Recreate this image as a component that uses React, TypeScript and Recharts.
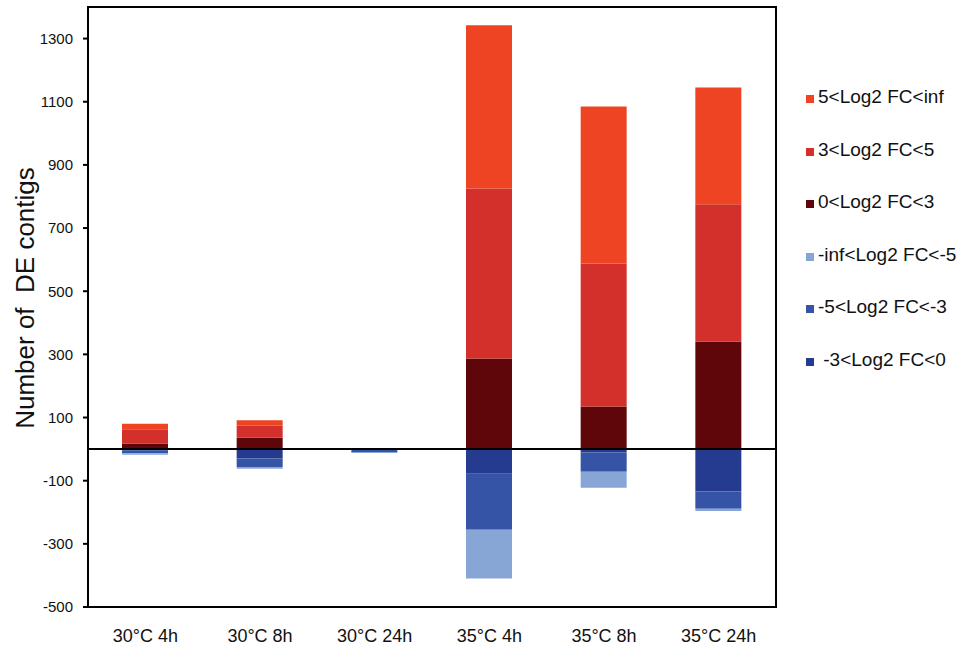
import React from "react";
import { BarChart, Bar, XAxis, YAxis, ReferenceLine, ReferenceArea } from "recharts";

const categories = ["30°C 4h", "30°C 8h", "30°C 24h", "35°C 4h", "35°C 8h", "35°C 24h"];
const fc0to3 = [18, 36, 0, 287, 135, 340];
const fc3to5 = [45, 38, 0, 538, 453, 435];
const fc5toInf = [17, 17, 0, 517, 497, 370];
const fcNeg3to0 = [-4, -30, -2, -78, -11, -134];
const fcNeg5toNeg3 = [-9, -27, -7, -177, -61, -55];
const fcNegInfToNeg5 = [-5, -5, -3, -155, -50, -7];
const yTicks = [-500, -300, -100, 100, 300, 500, 700, 900, 1100, 1300];

const seriesInfo = [
  { key: "a", label: "0<Log2 FC<3", color: "#5E0609", values: fc0to3 },
  { key: "b", label: "3<Log2 FC<5", color: "#D4302B", values: fc3to5 },
  { key: "c", label: "5<Log2 FC<inf", color: "#EF4423", values: fc5toInf },
  { key: "d", label: " -3<Log2 FC<0", color: "#253B8F", values: fcNeg3to0 },
  { key: "e", label: "-5<Log2 FC<-3", color: "#3654A5", values: fcNeg5toNeg3 },
  { key: "f", label: "-inf<Log2 FC<-5", color: "#87A6D6", values: fcNegInfToNeg5 },
];

const legendOrder = ["c", "b", "a", "f", "e", "d"];

const data = categories.map((name, i) => {
  const row: any = { name };
  seriesInfo.forEach((s) => (row[s.key] = s.values[i]));
  return row;
});

const FONT = "'Liberation Sans', Arial, Helvetica, sans-serif";

const LegendBlock = () => (
  <div
    style={{
      position: "absolute",
      left: 806,
      top: 86,
      width: 159,
      fontFamily: FONT,
      fontSize: 19,
      color: "#111",
    }}
  >
    {legendOrder.map((k) => {
      const s = seriesInfo.find((x) => x.key === k)!;
      return (
        <div key={k} style={{ height: 52.6, lineHeight: "22px", whiteSpace: "pre" }}>
          <span
            style={{
              display: "inline-block",
              width: 8,
              height: 8,
              background: s.color,
              marginRight: 4,
            }}
          />
          <span>{s.label}</span>
        </div>
      );
    })}
  </div>
);

const YLabel = (props: any) => {
  const vb = props.viewBox || { x: 0, y: 7, width: 88, height: 600 };
  const cx = 25;
  const cy = vb.y + vb.height / 2 - 9;
  return (
    <text
      x={cx}
      y={cy}
      transform={`rotate(-90, ${cx}, ${cy})`}
      textAnchor="middle"
      dominantBaseline="central"
      fontFamily={FONT}
      fontSize={26}
      fill="#111"
    >
      {"Number of\u00a0\u00a0DE contigs"}
    </text>
  );
};

export default function App() {
  return (
    <div style={{ position: "absolute", left: 0, top: 0, width: 965, height: 647, background: "#fff" }}>
      <BarChart
        width={965}
        height={647}
        data={data}
        stackOffset="sign"
        margin={{ top: 7, right: 189, bottom: 0, left: 0 }}
      >
        <XAxis
          dataKey="name"
          height={40}
          tickLine={false}
          tickSize={12}
          tickMargin={10}
          axisLine={{ stroke: "#000", strokeWidth: 2 }}
          tick={{ fill: "#111", fontSize: 18, fontFamily: FONT }}
        />
        <YAxis
          width={88}
          domain={[-500, 1400]}
          ticks={yTicks}
          interval={0}
          allowDataOverflow
          tickSize={5}
          tickMargin={10}
          tickLine={{ stroke: "#000", strokeWidth: 2 }}
          axisLine={{ stroke: "#000", strokeWidth: 2 }}
          tick={{ fill: "#111", fontSize: 15, fontFamily: FONT }}
          label={<YLabel />}
        />
        <ReferenceArea
          y1={-500}
          y2={1400}
          fill="none"
          fillOpacity={0}
          stroke="#000"
          strokeWidth={2}
          ifOverflow="visible"
        />
        {seriesInfo.map((s) => (
          <Bar
            key={s.key}
            dataKey={s.key}
            name={s.label}
            stackId="stack"
            fill={s.color}
            barSize={46}
            isAnimationActive={false}
          />
        ))}
        <ReferenceLine y={0} stroke="#000" strokeWidth={2} />
      </BarChart>
      <LegendBlock />
    </div>
  );
}
